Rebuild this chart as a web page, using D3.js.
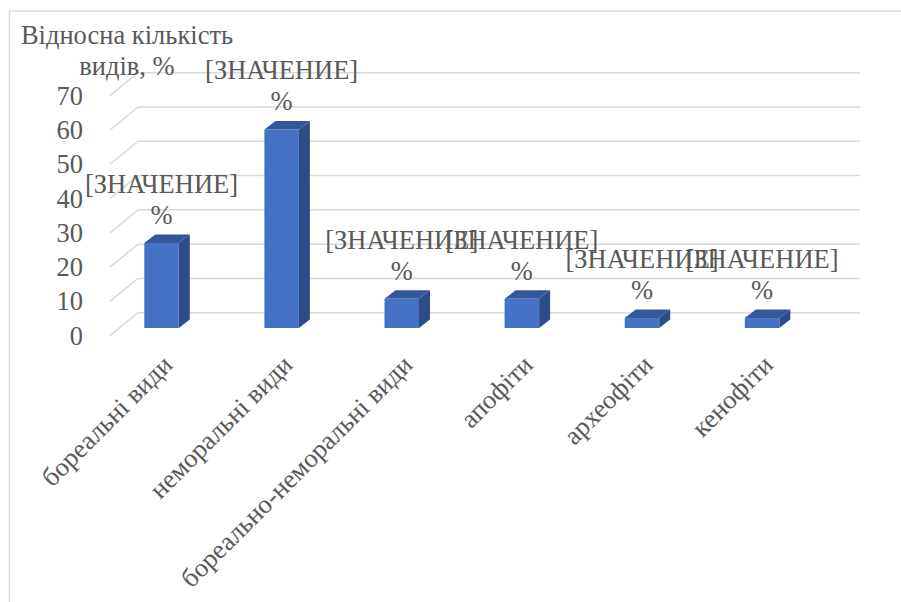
<!DOCTYPE html>
<html>
<head>
<meta charset="utf-8">
<script src="https://cdn.jsdelivr.net/npm/d3@7"></script>
<style>
  html, body { margin: 0; padding: 0; background: #fff; }
  svg { display: block; }
</style>
</head>
<body>
<svg id="chart" width="901" height="602"></svg>
<script>
// ---- data ----
const categories = ["бореальні види", "неморальні види", "бореально-неморальні види", "апофіти", "археофіти", "кенофіти"];
const values = [24.8, 57.9, 8.5, 8.5, 2.9, 2.9];
const yTicks = [0, 10, 20, 30, 40, 50, 60, 70];
const titleLines = ["Відносна кількість", "видів, %"];
const labelLines = ["[ЗНАЧЕНИЕ]", "%"];

// ---- layout ----
const FONT = "'Liberation Serif', 'Times New Roman', 'DejaVu Serif', serif";
const TXT = "#595959";
const FS = 26.5;
const W = 901, H = 602;
const svg = d3.select("#chart");
svg.append("rect").attr("width", W).attr("height", H).attr("fill", "#fff");

// chart border
svg.append("rect")
  .attr("x", 9.5).attr("y", 11).attr("width", W + 10).attr("height", H + 10)
  .attr("fill", "none").attr("stroke", "#d9d9d9").attr("stroke-width", 1.5);

// 3D geometry
const backX0 = 138, backX1 = 860;
const sideDx = 28, sideDy = 23;
const barDx = 11, barDy = 8.5;
const barFloor = 328;

const yBack = d3.scaleLinear().domain([0, 70]).range([312.7, 72.7]);
const yBar = d3.scaleLinear().domain([0, 70]).range([barFloor, barFloor - (312.7 - 72.7)]);
const x = d3.scaleBand().domain(categories).range([101.5, 101.5 + 6 * 120.1]).padding(0);
const barW = 34.5;

// gridlines
const grid = svg.append("g");
yTicks.forEach(t => {
  const yb = yBack(t);
  grid.append("line")
    .attr("x1", backX0).attr("x2", backX1).attr("y1", yb).attr("y2", yb)
    .attr("stroke", "#d9d9d9").attr("stroke-width", 1.5);
  grid.append("line")
    .attr("x1", backX0 - sideDx).attr("y1", yb + sideDy).attr("x2", backX0).attr("y2", yb)
    .attr("stroke", "#d9d9d9").attr("stroke-width", 1.5);
});

// y tick labels
svg.append("g").selectAll("text").data(yTicks).join("text")
  .attr("x", 83).attr("y", d => yBack(d) + sideDy)
  .attr("text-anchor", "end").attr("dominant-baseline", "central")
  .attr("font-family", FONT).attr("fill", TXT).attr("font-size", FS)
  .text(d => d);

// bars
const bars = svg.append("g").selectAll("g").data(values).join("g");
bars.each(function(v, i) {
  const g = d3.select(this);
  const x0 = x(categories[i]) + (x.bandwidth() - barW) / 2;
  const x1 = x0 + barW;
  const yt = yBar(v);
  const yb = yBar(0);
  g.append("path")
    .attr("d", `M${x1},${yb}L${x1 + barDx},${yb - barDy}L${x1 + barDx},${yt - barDy}L${x1},${yt}Z`)
    .attr("fill", "#2c4c88");
  g.append("path")
    .attr("d", `M${x0},${yt}L${x0 + barDx},${yt - barDy}L${x1 + barDx},${yt - barDy}L${x1},${yt}Z`)
    .attr("fill", "#34579a");
  g.append("rect")
    .attr("x", x0).attr("y", yt).attr("width", barW).attr("height", yb - yt)
    .attr("fill", "#4472c4");
});

// data labels
const dl = svg.append("g").attr("font-family", FONT).attr("fill", TXT).attr("font-size", FS);
values.forEach((v, i) => {
  const cx = x(categories[i]) + x.bandwidth() / 2;
  const yt = yBar(v);
  dl.append("text").attr("x", cx).attr("y", yt - 50).attr("text-anchor", "middle").text(labelLines[0]);
  dl.append("text").attr("x", cx).attr("y", yt - 19).attr("text-anchor", "middle").text(labelLines[1]);
});

// category labels
svg.append("g").selectAll("text").data(categories).join("text")
  .attr("transform", d => `translate(${x(d) + x.bandwidth() / 2 + 6},${360}) rotate(-45)`)
  .attr("text-anchor", "end").attr("dominant-baseline", "central")
  .attr("font-family", FONT).attr("fill", TXT).attr("font-size", FS)
  .text(d => d);

// axis title
const title = svg.append("text").attr("font-family", FONT).attr("fill", TXT)
  .attr("font-size", FS).attr("text-anchor", "middle");
titleLines.forEach((t, i) => {
  title.append("tspan").attr("x", 127).attr("y", 43.5 + i * 31).text(t);
});
</script>
</body>
</html>
